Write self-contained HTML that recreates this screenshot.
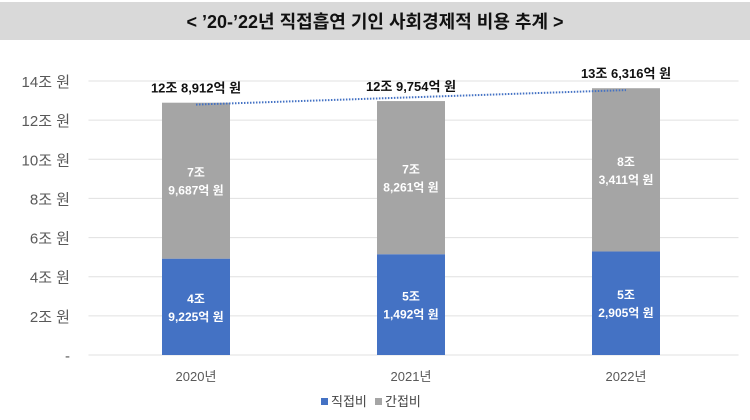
<!DOCTYPE html>
<html><head><meta charset="utf-8"><style>
body{margin:0;width:750px;height:415px;background:#fff;overflow:hidden;font-family:"Liberation Sans","Noto Sans CJK KR",sans-serif}
</style></head><body>
<svg width="750" height="415" xmlns="http://www.w3.org/2000/svg">
<rect x="0" y="2" width="750" height="38" fill="#d9d9d9"/>
<text x="375" y="28" text-anchor="middle" font-size="18" font-weight="bold" fill="#111" font-family="Liberation Sans,Noto Sans CJK KR,sans-serif">&lt; ’20-’22년 직접흡연 기인 사회경제적 비용 추계 &gt;</text>
<g id="grid"></g><g id="bars"></g><g id="labels"></g>
<g>
<rect x="321" y="398" width="7" height="7" fill="#4472c4"/>
<text x="331" y="406" font-size="13" fill="#444">직접비</text>
<rect x="375" y="398" width="7" height="7" fill="#a5a5a5"/>
<text x="385" y="406" font-size="13" fill="#444">간접비</text>
</g>
</svg>
<script>
const categories=["2020년","2021년","2022년"];
const direct=[4.9225,5.1492,5.2905];
const indirect=[7.9687,7.8261,8.3411];
const directLabels=[["4조","9,225억 원"],["5조","1,492억 원"],["5조","2,905억 원"]];
const indirectLabels=[["7조","9,687억 원"],["7조","8,261억 원"],["8조","3,411억 원"]];
const totalLabels=["12조 8,912억 원","12조 9,754억 원","13조 6,316억 원"];
const yTicks=[0,2,4,6,8,10,12,14];
const yTickLabels=["-","2조 원","4조 원","6조 원","8조 원","10조 원","12조 원","14조 원"];
const NS="http://www.w3.org/2000/svg";
const x0=88.5,x1=733.5,yB=355,yT=81,ymax=14;
const y=v=>yB-(v/ymax)*(yB-yT);
const bw=(x1-x0)/categories.length;
const xc=i=>x0+bw*(i+0.5);
function mk(p,t,a){const e=document.createElementNS(NS,t);for(const k in a)e.setAttribute(k,a[k]);p.appendChild(e);return e;}
const g=document.getElementById('grid'),b=document.getElementById('bars'),l=document.getElementById('labels');
yTicks.forEach((v,i)=>{
const ln=mk(g,'line',{x1:x0,x2:x1+5,y1:y(v),y2:y(v),stroke:'#e0e0e0','stroke-width':1});


const t=mk(g,'text',{x:70,y:y(v)+6,'text-anchor':'end','font-size':15,fill:'#595959'});
t.textContent=yTickLabels[i];


});
const W=68;
categories.forEach((c,i)=>{
const cx=xc(i);
const r1=mk(b,'rect',{x:cx-W/2,y:y(direct[i]),width:W,height:yB-y(direct[i]),fill:'#4472c4'});


const tot=direct[i]+indirect[i];
const r2=mk(b,'rect',{x:cx-W/2,y:y(tot),width:W,height:y(direct[i])-y(tot),fill:'#a5a5a5'});


const md=(y(direct[i])+yB)/2;
directLabels[i].forEach((s,k)=>{const t=mk(l,'text',{x:cx,y:md-4+k*18,'text-anchor':'middle','font-size':12,'font-weight':'bold',fill:'#fff'});t.textContent=s;

});
const mi=(y(tot)+y(direct[i]))/2;
indirectLabels[i].forEach((s,k)=>{const t=mk(l,'text',{x:cx,y:mi-4+k*18,'text-anchor':'middle','font-size':12,'font-weight':'bold',fill:'#fff'});t.textContent=s;

});
const tt=mk(l,'text',{x:cx,y:y(tot)-10,'text-anchor':'middle','font-size':13,'font-weight':'bold',fill:'#111'});
tt.textContent=totalLabels[i];


const xl=mk(l,'text',{x:cx,y:381,'text-anchor':'middle','font-size':13,fill:'#595959'});
xl.textContent=c;


});
// linear trend of totals
const tots=direct.map((d,i)=>d+indirect[i]);const n=tots.length;
const mx=(n-1)/2,my=tots.reduce((a,c)=>a+c,0)/n;
let sxy=0,sxx=0;tots.forEach((v,i)=>{sxy+=(i-mx)*(v-my);sxx+=(i-mx)*(i-mx);});
const sl=sxy/sxx;
const tl=mk(l,'line',{x1:xc(0),x2:xc(n-1),y1:y(my+sl*(0-mx)),y2:y(my+sl*(n-1-mx)),stroke:'#4472c4','stroke-width':2,'stroke-dasharray':'1.5 1.5'});


</script>
</body></html>
